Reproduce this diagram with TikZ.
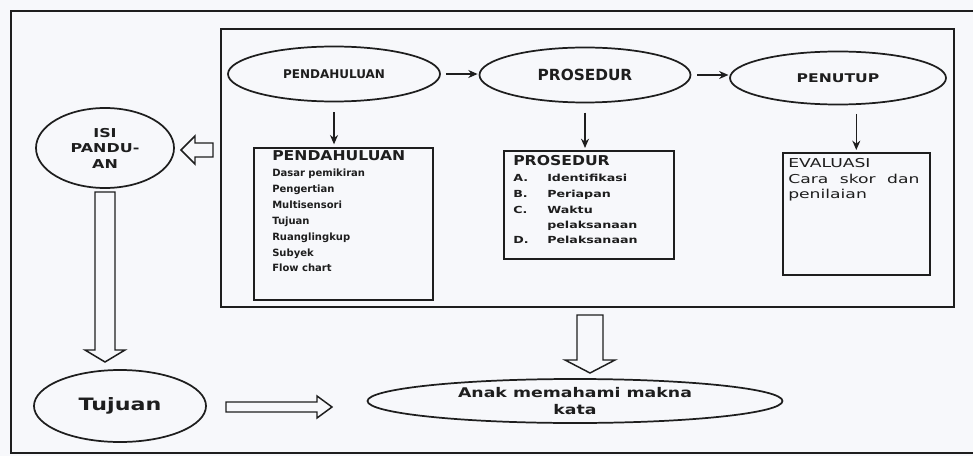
\documentclass[tikz,border=0pt]{standalone}
\usepackage{fontspec}
\newfontfamily\dvw{DejaVu Sans}[FakeStretch=1.3]
\newfontfamily\dvs{DejaVu Sans}[FakeStretch=1.15]
\newfontfamily\dvx{DejaVu Sans}[FakeStretch=1.4]
\newfontfamily\dvn{DejaVu Sans}
\usetikzlibrary{shapes.geometric,arrows.meta,calc}
\definecolor{ink}{RGB}{30,30,30}
\definecolor{paper}{RGB}{247,248,251}
\begin{document}
\begin{tikzpicture}[x=0.75pt,y=-0.75pt,
  every node/.style={inner sep=0pt, text=ink},
  frame/.style={draw=ink, line width=1.2pt},
  oval/.style={ellipse, draw=ink, line width=1.3pt},
  box/.style={rectangle, draw=ink, line width=1.2pt, anchor=north west},
  thinarrow/.style={draw=ink, line width=1.1pt, -{Stealth[length=7pt,width=6pt]}},
  hollow/.style={draw=ink, line width=1.1pt, fill=paper, line join=miter},
  ttl/.style={anchor=base west, font=\dvs\bfseries\fontsize{10.2}{12}\selectfont},
  itm/.style={anchor=base west, font=\dvn\bfseries\fontsize{7.5}{9}\selectfont},
  itq/.style={anchor=base west, font=\dvw\bfseries\fontsize{7.3}{9}\selectfont},
  evl/.style={anchor=base west, font=\dvx\fontsize{9.2}{11}\selectfont},
]
\fill[paper] (0,0) rectangle (973,456);
\useasboundingbox (0,0) rectangle (973,456);

% outer frame (runs off the right edge)
\draw[frame] (973,11) -- (11,11) -- (11,453) -- (973,453);

% inner frame and boxes
\node[box, minimum width=549.75pt, minimum height=208.5pt] (main) at (220,28) {};
\node[box, minimum width=134.25pt, minimum height=114pt] (pbox) at (253,147) {};
\node[box, minimum width=127.5pt, minimum height=81pt] (sbox) at (503,150) {};
\node[box, minimum width=110.25pt, minimum height=91.5pt] (ebox) at (782,152) {};

% ellipses
\node[oval, minimum width=159pt, minimum height=41.25pt, font=\dvn\bfseries\fontsize{9}{11}\selectfont] (pend) at (334,74) {PENDAHULUAN};
\node[oval, minimum width=158.25pt, minimum height=41.25pt, font=\dvn\bfseries\fontsize{11.5}{13}\selectfont] (pros) at (585,75) {PROSEDUR};
\node[oval, minimum width=162pt, minimum height=39.75pt, font=\dvw\bfseries\fontsize{9}{11}\selectfont] (penu) at (838,78) {PENUTUP};
\node[oval, minimum width=103.5pt, minimum height=60pt, align=center, font=\dvw\bfseries\fontsize{9.2}{11.6}\selectfont] (isi) at (105,148) {ISI\\PANDU-\\AN};
\node[oval, minimum width=129pt, minimum height=54pt, font=\dvw\bfseries\fontsize{12.8}{15}\selectfont] (tuj) at (120,406) {Tujuan};
\node[oval, minimum width=311.25pt, minimum height=33pt, align=center, font=\dvw\bfseries\fontsize{10}{12.75}\selectfont] (anak) at (575,401) {Anak memahami makna\\kata};

% PENDAHULUAN box text
\node[ttl] (pt) at (272,161) {PENDAHULUAN};
\node[itm] (p1) at (272,176) {Dasar pemikiran};
\node[itm] (p2) at (272,192) {Pengertian};
\node[itm] (p3) at (272,208) {Multisensori};
\node[itm] (p4) at (272,224) {Tujuan};
\node[itm] (p5) at (272,240) {Ruanglingkup};
\node[itm] (p6) at (272,256) {Subyek};
\node[itm] (p7) at (272,271) {Flow chart};

% PROSEDUR box text
\node[ttl] (st) at (513,166) {PROSEDUR};
\node[itq] (sa) at (513,181) {A.};
\node[itq] (sat) at (547,181) {Identifikasi};
\node[itq] (sb) at (513,197) {B.};
\node[itq] (sbt) at (547,197) {Periapan};
\node[itq] (sc) at (513,213) {C.};
\node[itq] (sct) at (547,213) {Waktu};
\node[itq] (sct2) at (547,228) {pelaksanaan};
\node[itq] (sd) at (513,243) {D.};
\node[itq] (sdt) at (547,243) {Pelaksanaan};

% EVALUASI box text
\node[evl] (e1) at (788,167) {EVALUASI};
\node[evl] (e2) at (788,183) {Cara\hspace{4.5pt} skor\hspace{4.5pt} dan};
\node[evl] (e3) at (788,198) {penilaian};

% thin arrows
\draw[thinarrow, shorten <=3.75pt, shorten >=0.75pt] (pend.east) -- (pend.east -| pros.west);
\draw[thinarrow, shorten <=4.5pt, shorten >=0.5pt] (pros.east) -- (pros.east -| penu.west);
\draw[thinarrow, shorten <=7.5pt, shorten >=2pt] (pend.south) -- (pend.south |- pbox.north);
\draw[thinarrow, shorten <=7pt, shorten >=1.5pt] (pros.south) -- (pros.south |- sbox.north);
\draw[thinarrow, shorten <=6.4pt, shorten >=1.5pt] (ebox.north |- penu.south) -- (ebox.north);

% hollow block arrows
\coordinate (a1) at (213,150);
\draw[hollow] ([shift={(0,-7)}]a1) -- ++(-18,0) -- ++(0,-7) -- ++(-14,14) -- ++(14,14) -- ++(0,-7) -- ++(18,0) -- cycle;
\coordinate (a2) at (105,192);
\draw[hollow] ([shift={(-10,0)}]a2) -- ++(0,158) -- ++(-10,0) -- ++(20,12) -- ++(20,-12) -- ++(-10,0) -- ++(0,-158) -- cycle;
\coordinate (a3) at (226,407);
\draw[hollow] ([shift={(0,-5)}]a3) -- ++(91,0) -- ++(0,-6) -- ++(15,11) -- ++(-15,11) -- ++(0,-6) -- ++(-91,0) -- cycle;
\coordinate (a4) at (590,315);
\draw[hollow] ([shift={(-13,0)}]a4) -- ++(0,45) -- ++(-12,0) -- ++(25,13) -- ++(25,-13) -- ++(-12,0) -- ++(0,-45) -- cycle;
\end{tikzpicture}
\end{document}
